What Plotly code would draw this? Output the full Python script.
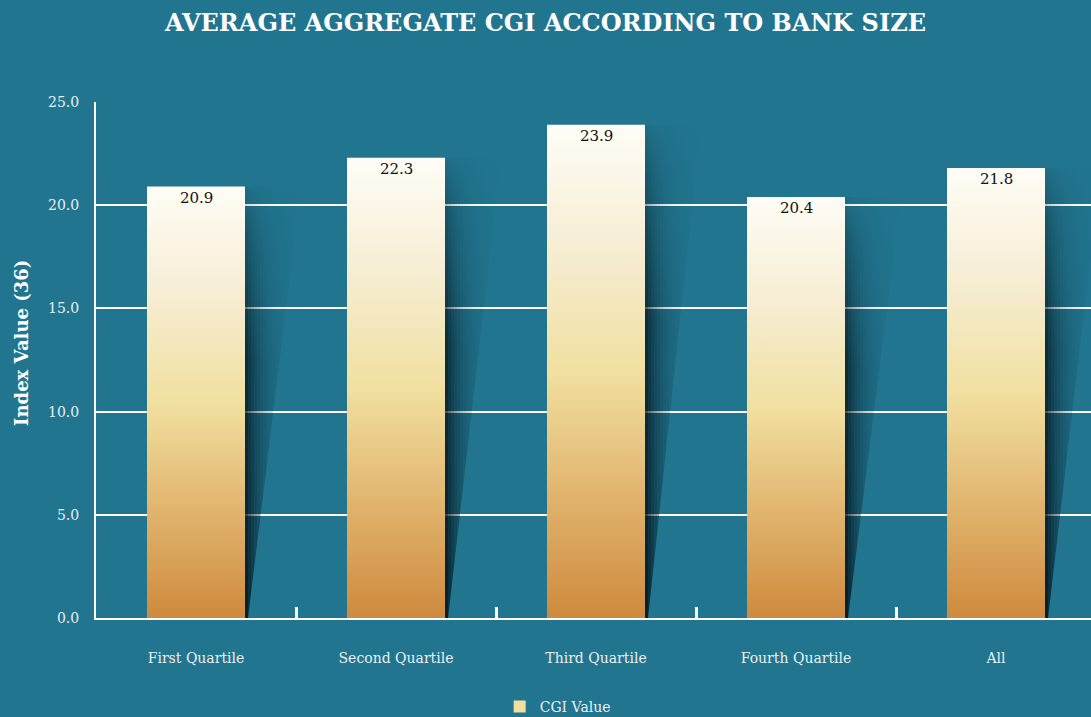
import math
import plotly.graph_objects as go

categories = ["First Quartile", "Second Quartile", "Third Quartile", "Fourth Quartile", "All"]
values = [20.9, 22.3, 23.9, 20.4, 21.8]
value_labels = ["20.9", "22.3", "23.9", "20.4", "21.8"]
y_ticks = [0, 5, 10, 15, 20, 25]
y_tick_labels = ["0.0", "5.0", "10.0", "15.0", "20.0", "25.0"]
series_name = "CGI Value"

BG = "#21758F"
FONT = "DejaVu Serif"
bar_w = 0.49
bar_scale = [[0, "#CE8A3D"], [0.25, "#E1B46E"], [0.5, "#F1E0A0"], [0.75, "#F6EDD3"], [1, "#FFFDF7"]]

PX = 1 / 200.0          # x-units per pixel (one category = 200 px)
SH_TOP_W = 56 * PX      # shadow width at bar top
SH_BOT_W = 3 * PX       # shadow width at base
COL_W = 3 * PX
N_COLS = 19

fig = go.Figure()
xs = list(range(len(categories)))

for i, v in zip(xs, values):
    xr = i + bar_w / 2

    def edge_y(x):
        return max(0.0, (x - xr - SH_BOT_W) / (SH_TOP_W - SH_BOT_W) * v)

    for j in range(N_COLS):
        x0 = xr + j * COL_W
        x1 = x0 + COL_W
        d_px = (j + 0.5) * 3
        a = 0.88 * math.exp(-d_px / 16.0)
        fig.add_trace(go.Scatter(
            x=[x0, x1, x1, x0, x0],
            y=[edge_y(x0), edge_y(x1), v, v, edge_y(x0)],
            mode="lines", line=dict(width=0), fill="toself",
            fillgradient=dict(type="vertical", start=0, stop=v,
                              colorscale=[[0, f"rgba(0,12,18,{a:.3f})"],
                                          [0.6, f"rgba(0,12,18,{a*0.85:.3f})"],
                                          [0.9, f"rgba(0,12,18,{a*0.35:.3f})"],
                                          [1, f"rgba(0,12,18,{a*0.08:.3f})"]]),
            hoverinfo="skip", showlegend=False))

for i, v, c in zip(xs, values, categories):
    xl, xr = i - bar_w / 2, i + bar_w / 2
    fig.add_trace(go.Scatter(
        x=[xl, xr, xr, xl, xl], y=[0, 0, v, v, 0],
        mode="lines", line=dict(width=0), fill="toself",
        fillgradient=dict(type="vertical", start=0, stop=v, colorscale=bar_scale),
        name=c, hoverinfo="text", text=f"{c}: {v}", showlegend=False))

fig.add_trace(go.Scatter(
    x=[None], y=[None], mode="markers", name=series_name,
    marker=dict(symbol="square", size=12, color="#F1DF9F")))

annotations = [dict(x=i, y=v, text=t, xref="x", yref="y", showarrow=False,
                    yanchor="middle", yshift=-11,
                    font=dict(family=FONT, size=15, color="#111111"))
               for i, v, t in zip(xs, values, value_labels)]
annotations.append(dict(text="<b>Index Value (36)</b>", textangle=-90,
                        xref="paper", yref="paper", x=-0.0744, y=0.533,
                        xanchor="center", yanchor="middle", showarrow=False,
                        font=dict(family=FONT, size=18, color="white")))

fig.update_layout(
    width=1091, height=717,
    paper_bgcolor=BG, plot_bgcolor=BG,
    margin=dict(l=96, r=0, t=102, b=99, autoexpand=False),
    font=dict(family=FONT, color="#E8F0F3", size=14),
    title=dict(text="<b>AVERAGE AGGREGATE CGI ACCORDING TO BANK SIZE</b>",
               x=0.5, xanchor="center", y=0.968, yanchor="middle",
               font=dict(family=FONT, size=24, color="white")),
    showlegend=True,
    legend=dict(orientation="h", xref="container", yref="paper",
                x=0.458, xanchor="left", y=-0.1725, yanchor="middle",
                font=dict(family=FONT, size=14, color="#E8F0F3"),
                bgcolor="rgba(0,0,0,0)"),
    xaxis=dict(range=[-0.5, 4.475], tickvals=xs, ticktext=categories, tickangle=0,
               showgrid=False, zeroline=False, showline=True, linecolor="white", linewidth=2,
               ticks="", ticklabelstandoff=26, fixedrange=True,
               minor=dict(tickvals=[0.5, 1.5, 2.5, 3.5], ticks="inside", ticklen=11,
                          tickcolor="white", tickwidth=3, showgrid=False)),
    yaxis=dict(range=[0, 25], tickvals=y_ticks, ticktext=y_tick_labels,
               showgrid=True, gridcolor="white", gridwidth=2, zeroline=False,
               showline=True, linecolor="white", linewidth=2, ticks="",
               ticklabelstandoff=12, fixedrange=True),
    annotations=annotations,
)

fig.write_html("out.html", config={"displayModeBar": False},
               post_script="document.body.style.margin='0px';document.body.style.background='" + BG + "';")
